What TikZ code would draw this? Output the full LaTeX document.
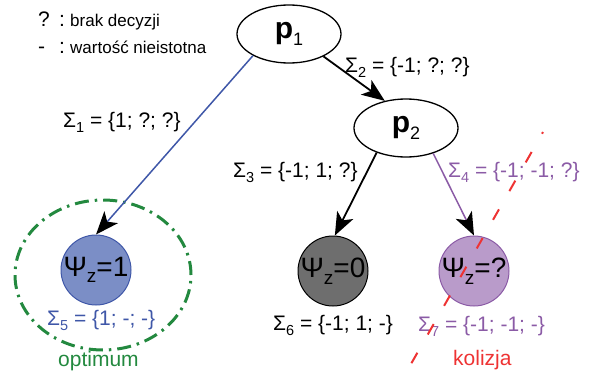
\documentclass[tikz,border=0pt]{standalone}
\usepackage{fontspec}
\setmainfont{Liberation Sans}
\usetikzlibrary{arrows.meta,shapes.geometric}
\definecolor{cblue}{HTML}{3F57A8}
\definecolor{cbluefill}{HTML}{7B8EC6}
\definecolor{cgrayfill}{HTML}{6E6E6E}
\definecolor{cpurple}{HTML}{8B5BA6}
\definecolor{cpurplefill}{HTML}{B99BCA}
\definecolor{cgreen}{HTML}{23893F}
\definecolor{cred}{HTML}{EE3333}
\newcommand\mysub[2][14.5]{\raisebox{-0.24em}{\fontsize{#1}{#1}\selectfont #2}}
\newcommand\lblfont{\fontsize{21}{24}\selectfont}
\newcommand\legfont{\fontsize{17}{20}\selectfont}
\begin{document}
\begin{tikzpicture}[x=1pt,y=-1pt,
  lbl/.style={anchor=base west,inner sep=0pt,font=\lblfont},
  leg/.style={anchor=base west,inner sep=0pt,font=\legfont},
  proc/.style={draw=black,line width=1.3pt,ellipse,minimum width=104pt,minimum height=58pt,inner sep=0pt,fill=white},
  leaf/.style={circle,line width=1pt,minimum size=70pt,inner sep=0pt,font=\fontsize{28}{30}\selectfont},
  arr/.style={line width=1.8pt,-{Stealth[length=23pt,width=18pt,inset=6pt,color=black]}},
  thinarr/.style={line width=1.5pt,-{Stealth[length=23pt,width=18pt,inset=6pt,color=black]}},
]
\useasboundingbox (0,0) rectangle (594,380);

% legend
\node[anchor=base west,inner sep=0pt,font=\fontsize{21}{24}\selectfont] (q) at (38,27) {?};
\node[anchor=base west,inner sep=0pt,font=\fontsize{21}{24}\selectfont] (c1) at (59,27) {:};
\node[leg] (l1) at (70,26) {brak decyzji};
\node[anchor=base west,inner sep=0pt,font=\fontsize{21}{24}\selectfont] (h) at (38,53) {-};
\node[anchor=base west,inner sep=0pt,font=\fontsize{21}{24}\selectfont] (c2) at (59,53) {:};
\node[leg] (l2) at (70,53) {wartość nieistotna};

% optimum oval
\node[draw=cgreen,line width=3pt,ellipse,minimum width=176pt,minimum height=150pt,
  dash pattern=on 14pt off 6pt on 2.5pt off 6pt] (oval) at (103,275) {};

% nodes
\node[proc] (p1) at (289,34) {\fontsize{30}{32}\selectfont\textbf{p}\mysub[18]{1}};
\node[proc] (p2) at (406,128) {\fontsize{30}{32}\selectfont\textbf{p}\mysub[18]{2}};
\node[leaf,draw=cblue,fill=cbluefill] (psiA) at (96,270) {Ψ\mysub[19]{z}=1};
\node[leaf,draw=black,fill=cgrayfill] (psiB) at (333,271) {Ψ\mysub[19]{z}=0};
\node[leaf,draw=cpurple,fill=cpurplefill] (psiC) at (474,271) {Ψ\mysub[19]{z}=?};

% connectors
\draw[thinarr,cblue] (p1.211) -- (psiA.north);
\draw[arr,black] (p1.327) -- (p2.128);
\draw[arr,black] (p2.220) -- (psiB.87);
\draw[thinarr,cpurple] (p2.317) -- (psiC.north);

% edge labels
\node[lbl] (s1) at (63,127) {Σ\mysub{1} = \{1; ?; ?\}};
\node[lbl] (s2) at (345,72) {Σ\mysub{2} = \{-1; ?; ?\}};
\node[lbl] (s3) at (233,177) {Σ\mysub{3} = \{-1; 1; ?\}};
\node[lbl,text=cpurple] (s4) at (448,177) {Σ\mysub{4} = \{-1; -1; ?\}};
\node[lbl,text=cblue] (s5) at (47,325) {Σ\mysub{5} = \{1; -; -\}};
\node[lbl] (s6) at (273,330) {Σ\mysub{6} = \{-1; 1; -\}};
\node[lbl,text=cpurple] (s7) at (418,331) {Σ\mysub{7} = \{-1; -1; -\}};
\node[lbl,text=cgreen] (opt) at (58,366) {optimum};
\node[lbl,text=cred] (kol) at (453,365) {kolizja};

% collision line
\coordinate (kA) at (543,132);
\coordinate (kB) at (403,378);
\draw[cred,line width=2pt,dash pattern=on 12pt off 21pt,dash phase=10pt] (kA) -- (kB);
\end{tikzpicture}
\end{document}
